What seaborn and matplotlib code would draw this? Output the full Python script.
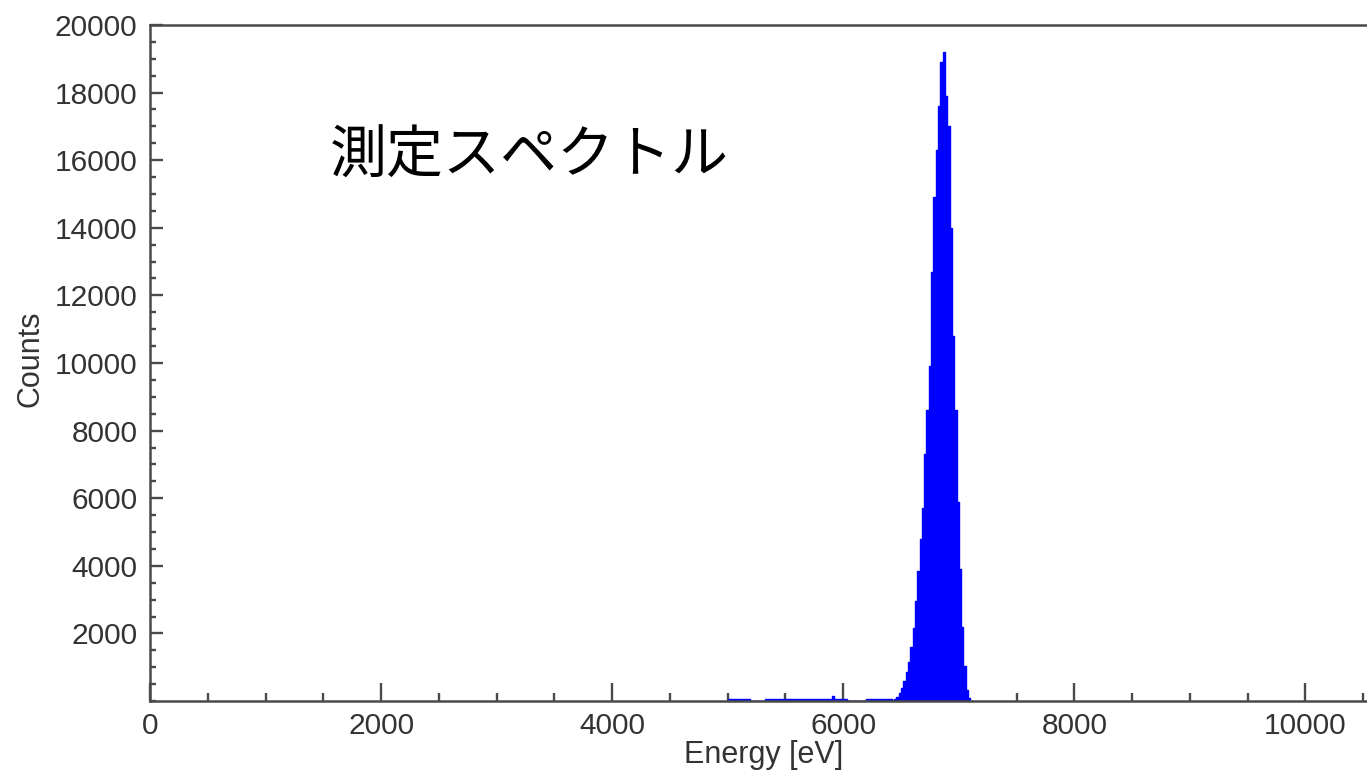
import numpy as np
import pandas as pd
import seaborn as sns
from matplotlib import pyplot as plt
from matplotlib.ticker import MultipleLocator

tail_edges = [5000, 5190, 5320, 5900, 5920, 6030, 6200, 6420]
tail_counts = [50, 0, 50, 150, 50, 0, 60]

# main peak, 20 eV bins starting at 6420 eV
peak_start = 6420
peak_width = 20
peak_counts = [
    20, 60, 120, 230, 370, 580, 850, 1150, 1600, 2150,
    2950, 3850, 4800, 5700, 7300, 8600, 9900, 12700, 14900, 16300,
    17600, 18900, 19200, 17900, 17000, 14000, 10800, 8600, 5900, 3900,
    2200, 1050, 330, 80, 10,
]

title_text = "測定スペクトル"
x_label = "Energy [eV]"
y_label = "Counts"


def main() -> None:
    peak_edges = peak_start + peak_width * np.arange(len(peak_counts) + 1)
    edges = [float(e) for e in tail_edges[:-1]] + [float(e) for e in peak_edges]
    counts = np.array(tail_counts + peak_counts, dtype=float)
    e = np.array(edges)
    centers = 0.5 * (e[:-1] + e[1:])
    df = pd.DataFrame({"energy": centers, "counts": counts})

    sns.set_theme(style="white")
    plt.rcParams["font.family"] = ["Liberation Sans", "Noto Sans CJK JP", "DejaVu Sans"]

    fig = plt.figure(figsize=(13.67, 7.73), dpi=100)
    ax = fig.add_axes([150 / 1367, 72 / 773, 1271 / 1367, 676 / 773])

    sns.histplot(
        data=df, x="energy", weights="counts", bins=edges,
        element="step", fill=True, color="#0000ff", alpha=1.0,
        linewidth=1.0, edgecolor="#0000ff", ax=ax,
    )

    ax.set_xlim(0, 11000)
    ax.set_ylim(0, 20000)

    ax.xaxis.set_major_locator(MultipleLocator(2000))
    ax.xaxis.set_minor_locator(MultipleLocator(500))
    ax.set_yticks(np.arange(2000, 20001, 2000))
    ax.yaxis.set_minor_locator(MultipleLocator(500))

    spine_col = "#4a4a4a"
    for side in ["left", "bottom", "top", "right"]:
        ax.spines[side].set_color(spine_col)
        ax.spines[side].set_linewidth(1.8)

    ax.tick_params(axis="x", which="major", direction="in", length=13, width=1.7,
                   color=spine_col, labelsize=21.5, labelcolor="#333333", pad=8,
                   bottom=True, top=False)
    ax.tick_params(axis="x", which="minor", direction="in", length=6, width=1.7,
                   color=spine_col, bottom=True, top=False)
    ax.tick_params(axis="y", which="major", direction="in", length=9, width=1.7,
                   color=spine_col, labelsize=21.5, labelcolor="#333333", pad=9,
                   left=True, right=False)
    ax.tick_params(axis="y", which="minor", direction="in", length=4.5, width=1.7,
                   color=spine_col, left=True, right=False)

    ax.set_xlabel(x_label, fontsize=22, color="#333333")
    ax.set_ylabel(y_label, fontsize=22, color="#333333")
    ax.xaxis.set_label_coords(0.483, -0.08)
    ax.yaxis.set_label_coords(-0.094, 0.507)
    ax.xaxis.label.set_va("center")
    ax.yaxis.label.set_va("center")

    fig.text(330 / 1367, 1 - 157 / 773, title_text, fontsize=41,
             family=["Noto Sans CJK JP", "DejaVu Sans"], color="black",
             ha="left", va="center")

    fig.savefig("out.png", dpi=100)
    plt.close(fig)


if __name__ == "__main__":
    main()
